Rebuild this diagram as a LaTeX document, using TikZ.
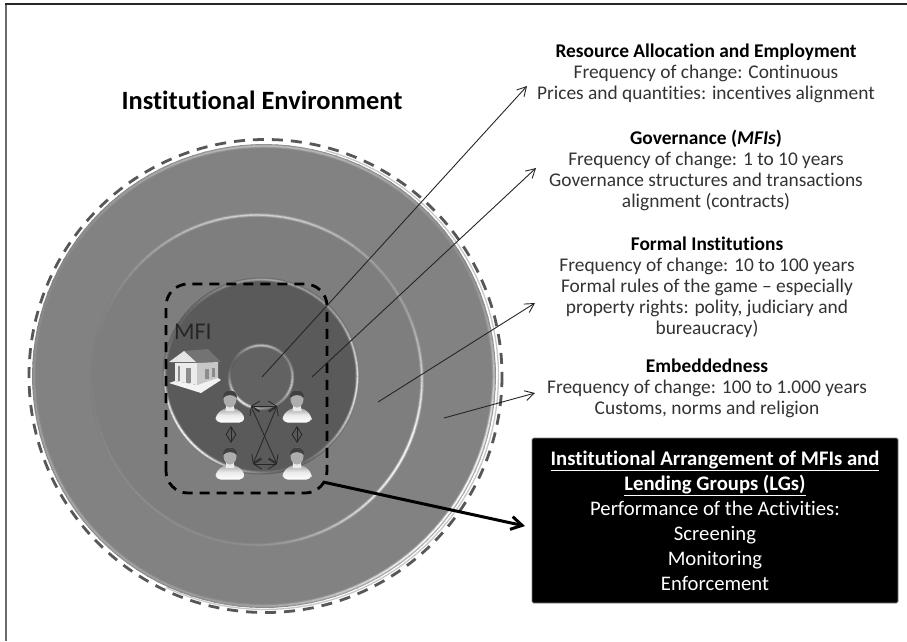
\documentclass[tikz,border=0pt]{standalone}
\usepackage{fontspec}
\setmainfont[Ligatures=NoCommon]{Carlito}
\usetikzlibrary{arrows.meta}
\definecolor{outerg}{HTML}{828282}
\definecolor{midg}{HTML}{7E7E7E}
\definecolor{darkg}{HTML}{5A5A5A}
\definecolor{txtg}{HTML}{333333}
\newcommand{\bevelring}[9]{%
  \foreach \a in {0,3,...,357}{%
    \pgfmathsetmacro\ca{max(0,cos(\a-#4))}%
    \pgfmathsetmacro\cb{max(0,cos(\a-#6))}%
    \pgfmathsetmacro\cc{max(0,cos(\a-#8))}%
    \pgfmathsetmacro\kk{min(100,#5*\ca*\ca*\ca+#7*\cb*\cb*\cb+#9*\cc*\cc*\cc)}%
    \pgfmathsetmacro\kb{\kk*0.25}%
    \pgfmathsetmacro\kc{\kk*0.6}%
    \pgfmathsetmacro\en{\a+3.4}%
    \begin{scope}[shift={(#1)}]
      \draw[line width=4pt,color=white!\kb!#3] (\a:#2) -- (\en:#2);
      \draw[line width=2.4pt,color=white!\kc!#3] (\a:#2) -- (\en:#2);
      \draw[line width=1.2pt,color=white!\kk!#3] (\a:#2) -- (\en:#2);
    \end{scope}
  }%
}
\newcommand{\personicon}[3]{% name, x, y of head centre
  \begin{scope}[shift={(#2,#3)}]
    \shade[top color=black!38,bottom color=white,middle color=black!8,rounded corners=5pt]
      (-14.5,24.5) -- (-14.5,17) -- (-5,9.5) -- (5,9.5) -- (14.5,17) -- (14.5,24.5) -- cycle;
    \fill[black!8] (-3.5,6) -- (3.5,6) -- (4.5,13) -- (-4.5,13) -- cycle;
    \fill[black!32] (0,1) ellipse[x radius=6.5,y radius=8.5];
    \fill[black!75] (-7,0) .. controls (-7.5,-10) and (7.5,-10) .. (7,0) .. controls (3,-4) and (-3,-4) .. (-7,0) -- cycle;
    \coordinate (#1) at (0,0);
  \end{scope}
}
\tikzset{
  block/.style={align=center,text=txtg,font=\fontsize{19.4}{21}\selectfont,inner sep=0pt},
  thin arrow/.style={draw=black!85,line width=0.9pt,-{Straight Barb[length=9pt,width=10pt]}},
  link/.style={draw=black!85,line width=0.8pt,{Straight Barb[length=8pt,width=10pt]}-{Straight Barb[length=8pt,width=10pt]}},
  x=1pt,y=-1pt
}
\begin{document}
\begin{tikzpicture}[x=1pt,y=-1pt]
\useasboundingbox (0,0) rectangle (907,641);
\fill[white] (0,0) rectangle (907,641);
% frame
\draw[black!58,line width=2.4pt] (6,3) -- (6,641);
\draw[black!85,line width=1.8pt] (5,4) -- (907,4);
% discs
\draw[black!22,line width=1.3pt] plot[domain=-75:115,samples=70] ({265+233.5*cos(\x)},{376+233.5*sin(\x)});
\fill[outerg] (264,376) circle[radius=231];
\bevelring{264,376}{230}{outerg}{270}{45}{35}{100}{140}{30}
\fill[midg] (257,380) circle[radius=165];
\bevelring{257,380}{165}{midg}{270}{65}{25}{95}{120}{12}
\fill[darkg] (261,376) circle[radius=98];
\bevelring{261,376}{96.5}{darkg}{140}{95}{5}{80}{275}{45}
\fill[darkg!95!white] (261,377) circle[radius=32];
\bevelring{261,377}{31.5}{darkg}{130}{95}{15}{65}{270}{65}
% dashed outlines
\draw[black!66,line width=2.8pt,dash pattern=on 11pt off 8pt] (265.5,376) circle[radius=236.5];
\node[inner sep=0pt,font=\bfseries\fontsize{26.4}{30}\selectfont,text=black] (title) at (262,100) {Institutional Environment};
\coordinate (mfiBL) at (166,493);
\coordinate (mfiTR) at (327,284);
\draw[black,line width=2.8pt,dash pattern=on 10pt off 7pt,rounded corners=22pt] (mfiBL) rectangle (mfiTR);
% MFI label + bank
\node[inner sep=0pt,font=\fontsize{24}{26}\selectfont,text=black!85] (mfi) at (193,332) {MFI};
\begin{scope}
  \fill[black!55] (184,351) -- (208,349) -- (221,362) -- (195,363) -- cycle;
  \fill[black!10] (169,362) -- (184,351) -- (196,362) -- cycle;
  \fill[black!8] (175,363) -- (197,363) -- (197,385) -- (175,381) -- cycle;
  \fill[black!22] (197,363) -- (218,362) -- (218,379) -- (197,385) -- cycle;
  \fill[black!45] (186,368) rectangle (191,383);
  \fill[black!45] (178,366) rectangle (180,381);
  \fill[black!45] (205,369) rectangle (209,379);
  \fill[black!45] (212,368) rectangle (215,377);
  \fill[black!5] (169,383) -- (175,381) -- (197,385) -- (218,378) -- (221,380) -- (201,393) -- cycle;
\end{scope}
% people
\personicon{pA}{230}{398}
\personicon{pB}{297}{398}
\personicon{pC}{230}{455}
\personicon{pD}{297}{455}
% links
\coordinate (lA) at (251,406);
\coordinate (lB) at (277,406);
\coordinate (lC) at (253,464);
\coordinate (lD) at (277,464);
\draw[link] (lA) -- (lB);
\draw[link] (lC) -- (lD);
\draw[link] (lA) -- (lD);
\draw[link] (lB) -- (lC);
\coordinate (vAt) at (231,426);
\coordinate (vAb) at (231,443);
\coordinate (vBt) at (297,426);
\coordinate (vBb) at (297,443);
\draw[link] (vAt) -- (vAb);
\draw[link] (vBt) -- (vBb);
% text blocks
\node[block] (resource) at (706,73) {\textcolor{black}{\textbf{Resource Allocation and Employment}}\\Frequency of change: Continuous\\Prices and quantities: incentives alignment};
\node[block] (governance) at (706,170) {\textcolor{black}{\textbf{Governance (\textit{MFIs})}}\\Frequency of change: 1 to 10 years\\Governance structures and transactions\\alignment (contracts)};
\node[block] (formal) at (707,287.5) {\textcolor{black}{\textbf{Formal Institutions}}\\Frequency of change: 10 to 100 years\\Formal rules of the game – especially\\property rights: polity, judiciary and\\bureaucracy)};
\node[block] (embedded) at (707,388) {\textcolor{black}{\textbf{Embeddedness}}\\Frequency of change: 100 to 1.000 years\\Customs, norms and religion};
\node[fill=black,draw=black!50,line width=0.6pt,rounded corners=1.5pt,minimum width=366pt,minimum height=165pt,inner sep=0pt,text=white,align=center,font=\fontsize{20.7}{25}\selectfont] (arr) at (715,520.5)
  {\underline{\textbf{Institutional Arrangement of MFIs and}}\\\underline{\textbf{Lending Groups (LGs)}}\\Performance of the Activities:\\Screening\\Monitoring\\Enforcement};
% arrows
\coordinate (s1) at (262,377);
\coordinate (t1) at (527,86);
\coordinate (s2) at (312,377);
\coordinate (t2) at (536,168);
\coordinate (s3) at (378,402);
\coordinate (t3) at (535,303);
\coordinate (s4) at (444,418);
\coordinate (t4) at (535,393);
\draw[thin arrow] (s1) -- (t1);
\draw[thin arrow] (s2) -- (t2);
\draw[thin arrow] (s3) -- (t3);
\draw[thin arrow] (s4) -- (t4);
\coordinate (s5) at (323,482);
\coordinate (t5) at (525,526);
\draw[black,line width=3pt,-{Straight Barb[length=11pt,width=13pt]}] (s5) -- (t5);
\end{tikzpicture}
\end{document}
